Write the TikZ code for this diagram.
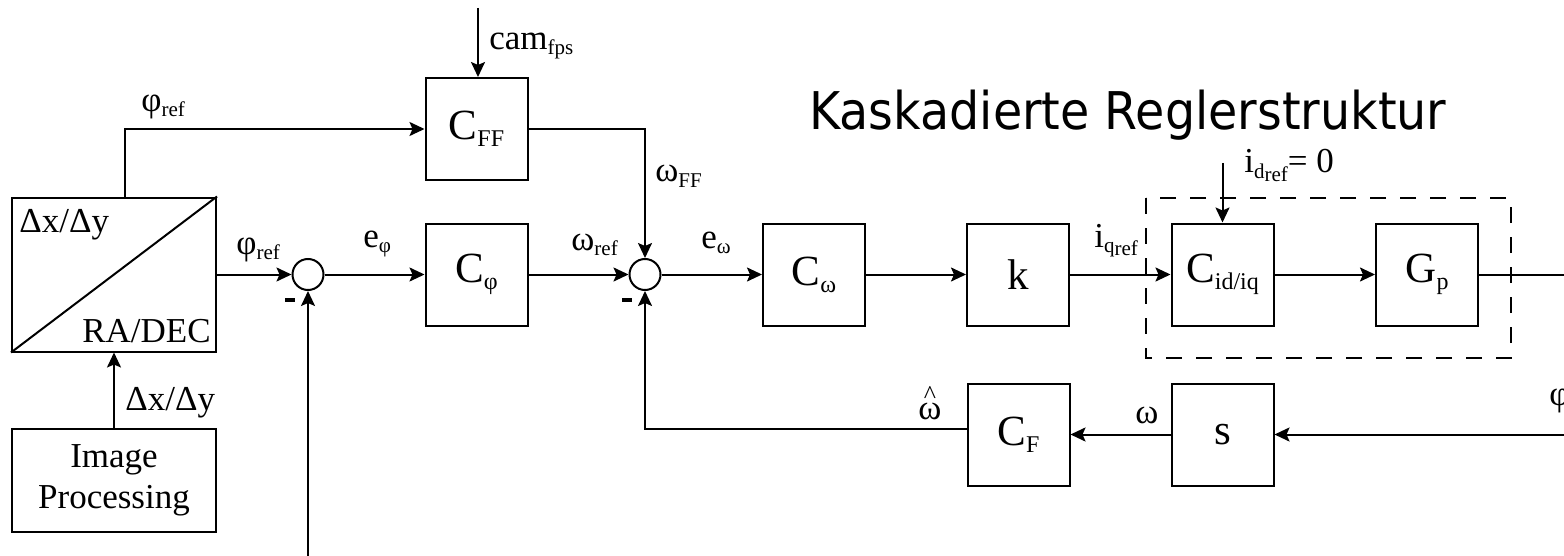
\documentclass[tikz,border=0pt]{standalone}
\usepackage{fontspec}
\setmainfont{Liberation Serif}
\newfontfamily\titlefont[FakeStretch=0.915]{DejaVu Sans}
\usetikzlibrary{arrows.meta}
\newcommand{\lsub}[1]{\raisebox{-2.5pt}{\fontsize{10.5}{11}\selectfont #1}}
\newcommand{\bsub}[1]{\raisebox{-3.5pt}{\fontsize{12}{13}\selectfont #1}}
\newcommand{\hatw}{\ooalign{ω\cr\hidewidth\raisebox{8pt}{\fontsize{13}{13}\selectfont\textasciicircum}\hidewidth\cr}}
\tikzset{
  blk/.style={draw, line width=1pt, minimum width=51pt, minimum height=51pt, inner sep=0pt, font=\fontsize{21.5}{24}\selectfont},
  sumn/.style={draw, circle, line width=1pt, minimum size=15.5pt, inner sep=0pt},
  lbl/.style={font=\fontsize{17.5}{20.5}\selectfont, inner sep=0pt},
  conn/.style={line width=1pt, -{Stealth[length=7.5pt,width=7pt,inset=1.5pt]}},
  wire/.style={line width=1pt},
  minus/.style={fill, inner sep=0pt, minimum width=5pt, minimum height=1.8pt},
}
\begin{document}
\begin{tikzpicture}[x=0.5pt,y=-0.5pt]
\useasboundingbox (0,0) rectangle (1564,556);
% blocks
\node[blk] (cff) at (476.5,129) {C\bsub{FF}};
\node[blk] (cphi) at (476.5,274.5) {C\bsub{φ}};
\node[blk] (cw) at (814,274.5) {C\bsub{ω}};
\node[blk] (k) at (1018,274.5) {k};
\node[blk] (cid) at (1222.5,274.5) {C\bsub{id/iq}};
\node[blk] (gp) at (1427,274.5) {G\bsub{p}};
\node[blk] (cf) at (1018.5,434.5) {C\bsub{F}};
\node[blk] (s) at (1222.5,434.5) {s};
\node[draw, line width=1pt, minimum width=102pt, minimum height=77pt, inner sep=0pt] (rad) at (114,274.5) {};
\draw[wire] (rad.south west) -- (rad.north east);
\node[lbl, anchor=base west] (radtl) at (19,232) {Δx/Δy};
\node[lbl, anchor=base east] (radbr) at (211,342) {RA/DEC};
\node[draw, line width=1pt, minimum width=102pt, minimum height=51.5pt, inner sep=0pt, align=center, font=\fontsize{17.5}{20.5}\selectfont] (ip) at (114,480.5) {Image\\Processing};
\node[sumn] (s1) at (308,274.5) {};
\node[sumn] (s2) at (645,274.5) {};
% dashed group
\draw[line width=1pt, dash pattern=on 8pt off 7pt] (1146,198) rectangle (1511,358);
% connectors
\coordinate (camin) at (478,8);
\coordinate (idin) at (1222.5,163);
\coordinate (bot) at (308,560);
\coordinate (outR) at (1568,274.5);
\coordinate (inR) at (1568,434.5);
\draw[conn] (rad.east) -- (s1.west);
\draw[conn] (s1.east) -- (cphi.west);
\draw[conn] (cphi.east) -- (s2.west);
\draw[conn] (s2.east) -- (cw.west);
\draw[conn] (cw.east) -- (k.west);
\draw[conn] (k.east) -- (cid.west);
\draw[conn] (cid.east) -- (gp.west);
\draw[wire] (gp.east) -- (outR);
\draw[conn] (inR) -- (s.east);
\draw[conn] (s.west) -- (cf.east);
\draw[conn] ([yshift=2.75pt]cf.west) -| (s2.south);
\draw[conn] (bot) -- (s1.south);
\draw[conn] ([xshift=5.5pt]rad.north) |- (cff.west);
\draw[conn] (cff.east) -| (s2.north);
\draw[conn] (camin) -- (camin |- cff.north);
\draw[conn] (idin) -- (cid.north);
\draw[conn] (ip.north) -- (rad.south);
% labels
\node[lbl, anchor=base west] (lcam) at (489,50) {cam\lsub{fps}};
\node[lbl, anchor=base west] (lphi1) at (141,112) {φ\lsub{ref}};
\node[lbl, anchor=base west] (lphi2) at (236,254) {φ\lsub{ref}};
\node[lbl, anchor=base west] (leph) at (363,247) {e\lsub{φ}};
\node[lbl, anchor=base west] (lwref) at (571,250) {ω\lsub{ref}};
\node[lbl, anchor=base west] (lwff) at (655,182) {ω\lsub{FF}};
\node[lbl, anchor=base west] (lew) at (701,248) {e\lsub{ω}};
\node[lbl, anchor=base west] (liq) at (1094,247) {i\lsub{q\raisebox{-2pt}{ref}}};
\node[lbl, anchor=base west] (lid) at (1244,173) {i\lsub{d\raisebox{-2pt}{ref}}= 0};
\node[minus] (m1) at (289.5,300) {};
\node[minus] (m2) at (627,300) {};
\node[lbl, anchor=base] (lwhat) at (930,419) {\hatw};
\node[lbl, anchor=base] (lw) at (1147,423) {ω};
\node[lbl, anchor=base west] (lphiR) at (1549,405) {φ};
\node[lbl, anchor=base west] (ldxy) at (125,410) {Δx/Δy};
\node[anchor=base west, inner sep=0pt, font=\titlefont\fontsize{26}{30}\selectfont] (title) at (809,130) {Kaskadierte Reglerstruktur};
\end{tikzpicture}
\end{document}
